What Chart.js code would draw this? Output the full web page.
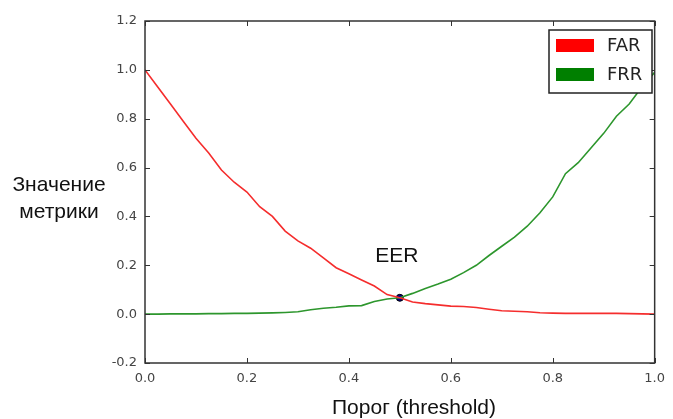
<!DOCTYPE html>
<html>
<head>
<meta charset="utf-8">
<script src="https://cdn.jsdelivr.net/npm/chart.js@4.4.0/dist/chart.umd.min.js"></script>
<style>
  html, body { margin: 0; padding: 0; background: #fff; }
  #wrap { width: 673px; height: 419px; }
</style>
</head>
<body>
<div id="wrap"><canvas id="can"></canvas></div>
<script>
// пороги и значения метрик
const porog = [0, 0.025, 0.05, 0.075, 0.1, 0.125, 0.15, 0.175, 0.2, 0.225, 0.25,
  0.275, 0.3, 0.325, 0.35, 0.375, 0.4, 0.425, 0.45, 0.475, 0.5,
  0.525, 0.55, 0.575, 0.6, 0.625, 0.65, 0.675, 0.7, 0.725, 0.75,
  0.775, 0.8, 0.825, 0.85, 0.875, 0.9, 0.925, 0.95, 0.975, 1.0]
const far = [1.0, 0.93, 0.86, 0.79, 0.72, 0.66, 0.59, 0.54, 0.5, 0.44, 0.4,
  0.34, 0.3, 0.27, 0.23, 0.19, 0.165, 0.14, 0.115, 0.08, 0.067,
  0.05, 0.043, 0.038, 0.033, 0.031, 0.027, 0.02, 0.014, 0.012, 0.01,
  0.006, 0.004, 0.003, 0.003, 0.003, 0.003, 0.003, 0.002, 0.001, 0.0]
const frr = [0.0, 0.0, 0.001, 0.001, 0.001, 0.002, 0.002, 0.003, 0.003, 0.004, 0.005,
  0.007, 0.01, 0.018, 0.024, 0.028, 0.034, 0.035, 0.052, 0.062, 0.067,
  0.085, 0.105, 0.123, 0.143, 0.17, 0.2, 0.24, 0.278, 0.315, 0.36,
  0.415, 0.48, 0.575, 0.62, 0.68, 0.74, 0.81, 0.86, 0.93, 0.99]
const eer = { x: 0.5, y: 0.067 }
const xTicks = [0.0, 0.2, 0.4, 0.6, 0.8, 1.0]
const yTicks = [-0.2, 0.0, 0.2, 0.4, 0.6, 0.8, 1.0, 1.2]

const tickFamily = '"DejaVu Sans", sans-serif'
const titleFont = '21px "Liberation Sans", Arial, sans-serif'

function toPoints(vals) {
  return porog.map((p, i) => ({ x: p, y: vals[i] }))
}

// рамка, засечки внутрь, подписи осей, легенда и метка EER
const oformlenie = {
  id: 'oformlenie',
  afterDraw(chart) {
    const ctx = chart.ctx
    const a = chart.chartArea
    const sx = chart.scales.x
    const sy = chart.scales.y
    ctx.save()
    ctx.strokeStyle = '#333'
    ctx.lineWidth = 1.5
    ctx.strokeRect(a.left, a.top, a.right - a.left, a.bottom - a.top)

    ctx.lineWidth = 1
    ctx.beginPath()
    xTicks.forEach(v => {
      const px = Math.round(sx.getPixelForValue(v)) + 0.5
      ctx.moveTo(px, a.bottom); ctx.lineTo(px, a.bottom - 5)
      ctx.moveTo(px, a.top); ctx.lineTo(px, a.top + 5)
    })
    yTicks.forEach(v => {
      const py = Math.round(sy.getPixelForValue(v)) + 0.5
      ctx.moveTo(a.left, py); ctx.lineTo(a.left + 5, py)
      ctx.moveTo(a.right, py); ctx.lineTo(a.right - 5, py)
    })
    ctx.stroke()

    // подписи осей
    ctx.fillStyle = '#111'
    ctx.font = titleFont
    ctx.textAlign = 'center'
    ctx.textBaseline = 'middle'
    ctx.fillText('Порог (threshold)', 414, 408)
    ctx.fillText('Значение', 59, 185)
    ctx.fillText('метрики', 59, 212)

    // EER
    const ex = sx.getPixelForValue(eer.x)
    const ey = sy.getPixelForValue(eer.y)
    ctx.fillText('EER', ex - 3, ey - 42)

    // легенда
    const lx = 549, ly = 30, lw = 103, lh = 63
    ctx.fillStyle = '#fff'
    ctx.fillRect(lx, ly, lw, lh)
    ctx.strokeStyle = '#222'
    ctx.lineWidth = 1.5
    ctx.strokeRect(lx, ly, lw, lh)
    ctx.font = '18px "DejaVu Sans", sans-serif'
    ctx.textAlign = 'left'
    const legendColors = ['#ff0000', '#007f00']
    chart.data.datasets.slice(0, 2).forEach((ds, i) => {
      const y = ly + 9 + i * 29
      ctx.fillStyle = legendColors[i]
      ctx.fillRect(lx + 7, y, 38, 13)
      ctx.fillStyle = '#222'
      ctx.fillText(ds.label, lx + 58, y + 7)
    })
    ctx.restore()
  }
}

let chart = new Chart(document.getElementById('can'), {
  type: 'line',
  data: {
    datasets: [
      {
        label: 'FAR',
        data: toPoints(far),
        borderColor: 'rgb(245,45,45)',
        borderWidth: 1.6,
        pointRadius: 0,
        tension: 0
      },
      {
        label: 'FRR',
        data: toPoints(frr),
        borderColor: 'rgb(45,150,45)',
        borderWidth: 1.6,
        pointRadius: 0,
        tension: 0
      },
      {
        label: 'EER',
        data: [eer],
        showLine: false,
        pointRadius: 3.5,
        pointBackgroundColor: '#00008b',
        pointBorderColor: '#000',
        pointBorderWidth: 1
      }
    ]
  },
  plugins: [oformlenie],
  options: {
    responsive: true,
    maintainAspectRatio: false,
    animation: false,
    layout: { padding: { top: 21, right: 13, left: 0, bottom: 0 } },
    plugins: {
      legend: { display: false },
      tooltip: { enabled: false }
    },
    scales: {
      x: {
        type: 'linear',
        min: 0,
        max: 1,
        afterFit: s => { s.height = 56 },
        afterBuildTicks: s => { s.ticks = xTicks.map(v => ({ value: v })) },
        grid: { display: false, drawTicks: false },
        border: { display: false },
        ticks: {
          padding: 8,
          color: '#444',
          font: { family: tickFamily, size: 13 },
          callback: v => v.toFixed(1),
          maxRotation: 0
        }
      },
      y: {
        type: 'linear',
        min: -0.2,
        max: 1.2,
        afterFit: s => { s.width = 145 },
        afterBuildTicks: s => { s.ticks = yTicks.map(v => ({ value: v })) },
        grid: { display: false, drawTicks: false },
        border: { display: false },
        ticks: {
          padding: 8,
          color: '#444',
          font: { family: tickFamily, size: 13 },
          callback: v => v.toFixed(1)
        }
      }
    }
  }
})
</script>
</body>
</html>
